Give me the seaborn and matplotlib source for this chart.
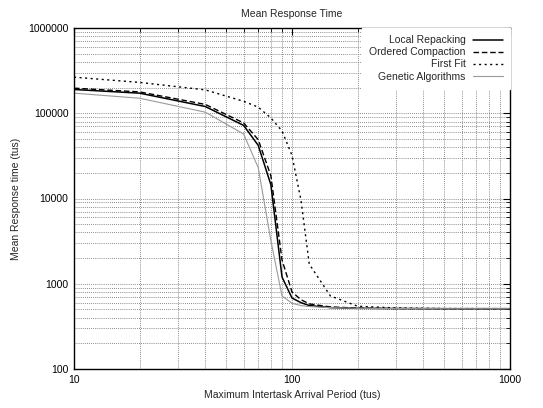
import numpy as np
import pandas as pd
import matplotlib
matplotlib.use("Agg")
import matplotlib.pyplot as plt
import seaborn as sns
from matplotlib.ticker import FixedLocator, FuncFormatter, NullFormatter

# ---- data ----
period = [10, 20, 40, 60, 70, 80, 90, 100, 110, 120, 150, 200, 300, 500, 1000]
local_repacking = [190000, 172000, 120000, 72000, 42000, 14500, 1200, 680, 600, 555, 525, 515, 512, 510, 510]
ordered_compaction = [197000, 178000, 127000, 77000, 49000, 18500, 1900, 800, 650, 580, 535, 518, 512, 510, 510]
first_fit = [265000, 230000, 188000, 138000, 118000, 88000, 62000, 32000, 9500, 1700, 720, 545, 520, 512, 510]
genetic = [172000, 150000, 103000, 57000, 23000, 3200, 720, 590, 555, 540, 525, 515, 512, 510, 510]

series_names = ["Local Repacking", "Ordered Compaction", "First Fit", "Genetic Algorithms"]
series_values = [local_repacking, ordered_compaction, first_fit, genetic]

x_ticks = [10, 100, 1000]
y_ticks = [100, 1000, 10000, 100000, 1000000]

title = "Mean Response Time"
x_label = "Maximum Intertask Arrival Period (tus)"
y_label = "Mean Response time (tus)"

# ---- style ----
sns.set_style("white")
plt.rcParams["font.family"] = ["Liberation Sans", "DejaVu Sans"]
FS = 7.5

styles = [
    dict(color="black", lw=1.1, linestyle="-"),
    dict(color="black", lw=1.0, linestyle=(0, (4, 2))),
    dict(color="black", lw=1.0, linestyle=(0, (1.5, 2.5))),
    dict(color="#9a9a9a", lw=0.8, linestyle="-"),
]

fig = plt.figure(figsize=(5.43, 4.08), dpi=100)
ax = fig.add_axes([74 / 543, 1 - 369 / 408, (510 - 74) / 543, (369 - 28) / 408])

for name, vals, st in zip(series_names, series_values, styles):
    df = pd.DataFrame({"x": period, "y": vals})
    sns.lineplot(data=df, x="x", y="y", ax=ax, label=name, **st)

ax.set_xscale("log")
ax.set_yscale("log")
ax.set_xlim(10, 1000)
ax.set_ylim(100, 1000000)

ax.xaxis.set_major_locator(FixedLocator(x_ticks))
ax.yaxis.set_major_locator(FixedLocator(y_ticks))
fmt = FuncFormatter(lambda v, p: f"{int(round(v))}")
ax.xaxis.set_major_formatter(fmt)
ax.yaxis.set_major_formatter(fmt)
ax.xaxis.set_minor_formatter(NullFormatter())
ax.yaxis.set_minor_formatter(NullFormatter())

ax.tick_params(which="both", direction="in", top=True, right=True, labelsize=FS, colors="black", pad=4)
ax.tick_params(which="major", length=5, width=0.8)
ax.tick_params(which="minor", length=3, width=0.6)

ax.grid(which="both", linestyle=(0, (1, 1.5)), color="#666666", lw=0.6)
for s in ax.spines.values():
    s.set_color("black")
    s.set_linewidth(1.0)

ax.set_title(title, fontsize=FS, pad=8)
ax.set_xlabel(x_label, fontsize=FS, labelpad=4)
ax.set_ylabel(y_label, fontsize=FS, labelpad=5)

leg = ax.legend(loc="upper right", fontsize=FS, markerfirst=False, frameon=True,
                borderaxespad=0.0, borderpad=0.7, handlelength=2.9, handletextpad=0.65,
                labelspacing=0.2, fancybox=False)
leg.get_frame().set_facecolor("white")
leg.get_frame().set_edgecolor("white")
leg.get_frame().set_alpha(1.0)

fig.savefig("out.png", dpi=100, facecolor="white")
